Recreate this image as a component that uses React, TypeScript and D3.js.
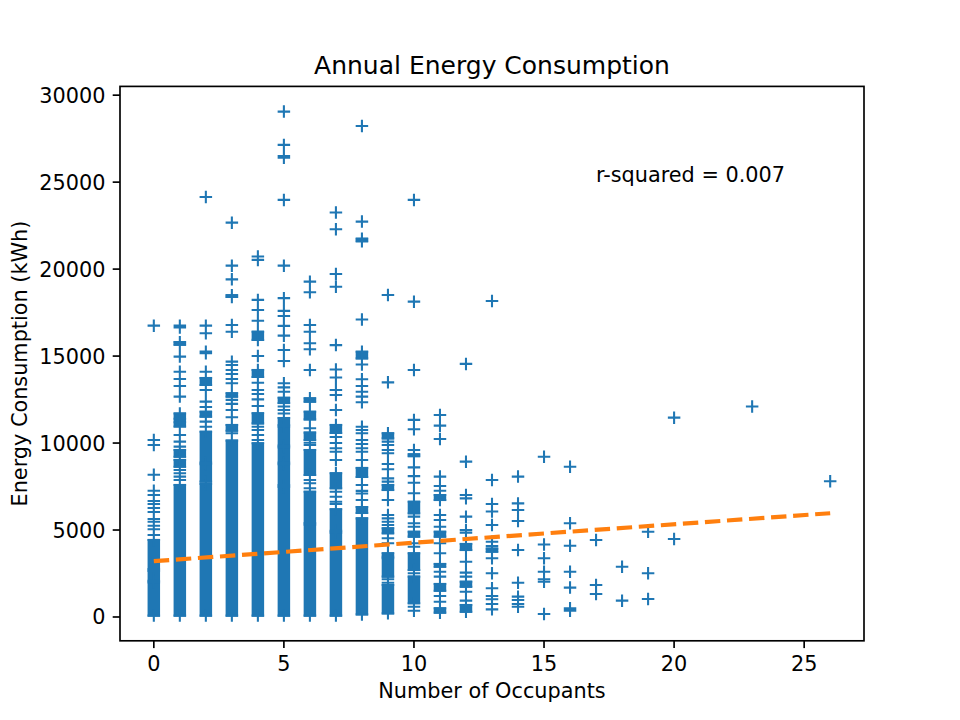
import * as d3 from "d3";

// Annual energy use (kWh) against number of occupants.
// Dense stretches of overlapping "+" markers are kept as [occupants, low, high] bands,
// the separately visible markers as [occupants, values].

const occupantTicks = [0, 5, 10, 15, 20, 25];
const energyTicks = [0, 5000, 10000, 15000, 20000, 25000, 30000];

const denseBands: [number, number, number][] = [
  [0, 80, 1980], [0, 2080, 2650], [0, 2750, 4430],
  [1, 80, 7590], [1, 8640, 9030], [1, 9215, 9600], [1, 10950, 11700], [1, 15650, 15800],
  [2, 80, 7650], [2, 7780, 8780], [2, 8880, 10650], [2, 11520, 11800], [2, 13340, 13740],
  [3, 80, 10140], [3, 10710, 11040], [3, 12670, 12860], [3, 18400, 18500],
  [4, 80, 9985], [4, 11130, 11710], [4, 13800, 14200], [4, 15930, 16400],
  [5, 80, 7480], [5, 7580, 8780], [5, 8880, 9750], [5, 9850, 10940], [5, 11040, 11440], [5, 12300, 12600],
  [6, 80, 5300], [6, 5400, 7200], [6, 8165, 9600], [6, 10180, 10600], [6, 11360, 11800], [6, 12380, 12570],
  [7, 80, 4850], [7, 4950, 6190], [7, 7400, 8260], [7, 10580, 11040],
  [8, 150, 5670], [8, 5980, 6320], [8, 8050, 8570], [8, 14870, 15250], [8, 21600, 21750],
  [9, 210, 1840], [9, 2320, 3375], [9, 3470, 3660], [9, 4810, 5100], [9, 7300, 7590], [9, 10270, 10560],
  [10, 790, 2320], [10, 2700, 3660], [10, 4620, 4900], [10, 5960, 6625], [10, 9250, 9350],
  [11, 250, 500], [11, 1510, 1900], [11, 2890, 3050], [11, 4620, 4900], [11, 6725, 7010],
  [12, 300, 690], [12, 1740, 2030], [12, 3850, 4200],
  [13, 3755, 3930],
];

const scatterPoints: [number, number[]][] = [
  [0, [16750, 10180, 9890, 8180, 7260, 7015, 6670, 6500, 6270, 6040, 5635, 5480, 5250, 5040, 4715]],
  [1, [16750, 16650, 14970, 14100, 13685, 13280, 12670, 11400, 11200, 10465, 10080, 9795, 8450, 8260, 8070, 7880]],
  [2, [24150, 16750, 16310, 15255, 15160, 14100, 13050, 12380, 12075, 11230, 10940]],
  [3, [22670, 20200, 19410, 16790, 16400, 14680, 14490, 14200, 13970, 13685, 13440, 12480, 12250, 11900, 11480, 10560]],
  [4, [20720, 20530, 18230, 17650, 17030, 15000, 13470, 13050, 12820, 12510, 12130, 10940, 10750, 10465, 10180]],
  [5, [29055, 27140, 26500, 26400, 23980, 20200, 18330, 17600, 17300, 16735, 16175, 15350, 14720, 13440, 13200, 12950, 12100, 11900, 11700]],
  [6, [19280, 18670, 16790, 16400, 15740, 15390, 14200, 10850, 10020, 9890, 7880, 7690, 7400]],
  [7, [23250, 22290, 19720, 18990, 15630, 14230, 13770, 13050, 12760, 11900, 10350, 10000, 9700, 9500, 9030, 7200, 6910, 6625, 6500]],
  [8, [28230, 22730, 17100, 14520, 13665, 13280, 12950, 12670, 12345, 10940, 10750, 10560, 10180, 9950, 9700, 9500, 9030, 7590, 7250, 7100, 6725]],
  [9, [18510, 13490, 10080, 9890, 9600, 9410, 8800, 8490, 7970, 7780, 6725, 5865, 5670, 5480, 5290, 4525, 4240, 2170, 1970]],
  [10, [23980, 18130, 14200, 11330, 10790, 9600, 8600, 8100, 7720, 7110, 5770, 5390, 5190, 4240, 4040, 2510, 590, 360]],
  [11, [11610, 11000, 10230, 8070, 7530, 7260, 5865, 5575, 5190, 4240, 3660, 2600, 2320, 1210, 880]],
  [12, [14550, 8930, 7010, 6820, 5770, 5000, 4850, 3180, 2550, 2320, 1455, 940]],
  [13, [18170, 7880, 6500, 6060, 5290, 4330, 4080, 3375, 2510, 1650, 1210, 1020, 750, 440]],
  [14, [8070, 6530, 6150, 5520, 3850, 1970, 1170, 980, 750, 590]],
  [15, [9210, 4170, 3375, 2600, 2170, 2030, 170]],
  [16, [8640, 5390, 4100, 2600, 1690, 500, 400, 360]],
  [17, [4430, 1840, 1320]],
  [18, [2890, 940]],
  [19, [4900, 2510, 1035]],
  [20, [11460, 4485]],
  [23, [12100]],
  [26, [7800]],
];

// least-squares line shown on the chart
const fitIntercept = 3210;
const fitSlope = 106;
const rSquaredLabel = "r-squared = 0.007";

const width = 960;
const height = 720;
const margin = { top: 86.4, right: 96, bottom: 79.2, left: 120 };
const blue = "#1f77b4";
const orange = "#ff7f0e";
const font = "DejaVu Sans, sans-serif";
const half = 6.25; // "+" marker half size (6pt at 150 dpi)
const mew = 2.08;

export default function App() {
  const allX = [...denseBands.map(d => d[0]), ...scatterPoints.map(d => d[0])];
  const allY = [
    ...denseBands.flatMap(d => [d[1], d[2]]),
    ...scatterPoints.flatMap(d => d[1]),
  ];
  const [x0, x1] = d3.extent(allX) as [number, number];
  const [y0, y1] = d3.extent(allY) as [number, number];
  const xPad = (x1 - x0) * 0.05;
  const yPad = (y1 - y0) * 0.05;

  const x = d3.scaleLinear()
    .domain([x0 - xPad, x1 + xPad])
    .range([margin.left, width - margin.right]);
  const y = d3.scaleLinear()
    .domain([y0 - yPad, y1 + yPad])
    .range([height - margin.bottom, margin.top]);

  const plus = (cx: number, cy: number) =>
    `M${cx - half},${cy}H${cx + half}M${cx},${cy - half}V${cy + half}`;

  const markerPath = [
    ...scatterPoints.flatMap(([n, vals]) => vals.map(v => plus(x(n), y(v)))),
    ...denseBands.flatMap(([n, lo, hi]) => [plus(x(n), y(lo)), plus(x(n), y(hi))]),
  ].join("");

  const fitLine = d3.line<number>()
    .x(n => x(n))
    .y(n => y(fitIntercept + fitSlope * n));

  const left = margin.left;
  const right = width - margin.right;
  const top = margin.top;
  const bottom = height - margin.bottom;
  const tickLen = 7.3;

  return (
    <svg
      width={width}
      height={height}
      style={{ position: "absolute", left: 0, top: 0, background: "#fff" }}
      fontFamily={font}
    >
      <rect x={0} y={0} width={width} height={height} fill="#fff" />

      {/* dense stacks */}
      <g fill={blue}>
        {denseBands.map(([n, lo, hi], i) => (
          <rect
            key={i}
            x={x(n) - half}
            y={y(hi) - mew / 2}
            width={half * 2}
            height={y(lo) - y(hi) + mew}
          />
        ))}
      </g>
      <path d={markerPath} stroke={blue} strokeWidth={mew} fill="none" />

      {/* fit */}
      <path
        d={fitLine([x0, x1]) ?? ""}
        stroke={orange}
        strokeWidth={4.17}
        strokeDasharray="15.4 6.7"
        fill="none"
      />

      <text x={x(17)} y={y(25000)} fontSize={20.8} fill="#000">{rSquaredLabel}</text>

      {/* axes frame */}
      <rect x={left} y={top} width={right - left} height={bottom - top} fill="none" stroke="#000" strokeWidth={1.67} />

      <g>
        {occupantTicks.map(t => (
          <g key={t}>
            <line x1={x(t)} x2={x(t)} y1={bottom} y2={bottom + tickLen} stroke="#000" strokeWidth={1.67} />
            <text x={x(t)} y={671} textAnchor="middle" fontSize={20.8} fill="#000">{t}</text>
          </g>
        ))}
      </g>
      <g>
        {energyTicks.map(t => (
          <g key={t}>
            <line x1={left - tickLen} x2={left} y1={y(t)} y2={y(t)} stroke="#000" strokeWidth={1.67} />
            <text x={left - tickLen - 7.3} y={y(t)} dy="0.36em" textAnchor="end" fontSize={20.8} fill="#000">{t}</text>
          </g>
        ))}
      </g>

      <text x={(left + right) / 2} y={74.3} textAnchor="middle" fontSize={25} fill="#000">
        Annual Energy Consumption
      </text>
      <text x={(left + right) / 2} y={698.3} textAnchor="middle" fontSize={20.8} fill="#000">
        Number of Occupants
      </text>
      <text
        transform={`translate(26.5,${(top + bottom) / 2}) rotate(-90)`}
        textAnchor="middle"
        fontSize={20.8}
        fill="#000"
      >
        Energy Consumption (kWh)
      </text>
    </svg>
  );
}
